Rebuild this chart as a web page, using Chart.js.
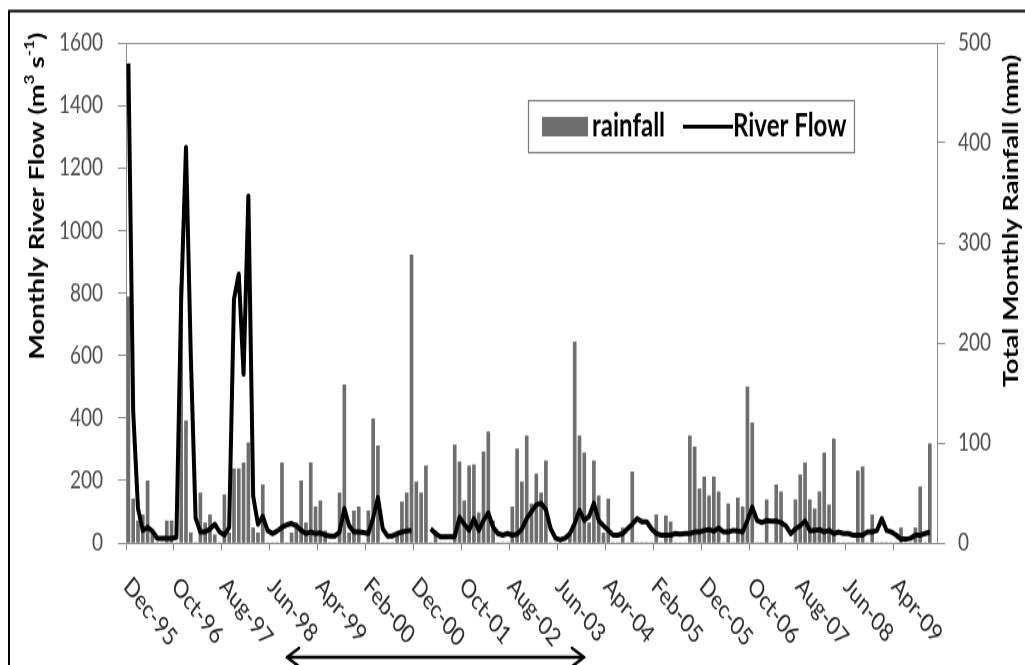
<!DOCTYPE html>
<html>
<head>
<meta charset="utf-8">
<title>Monthly river flow and rainfall</title>
<script src="https://cdn.jsdelivr.net/npm/chart.js@4.4.1/dist/chart.umd.min.js"></script>
<style>
  html, body { margin: 0; padding: 0; background: #fff; overflow: hidden; }
  #wrap { position: absolute; left: 0; top: 0; width: 1025px; height: 512px;
          transform: scaleY(1.29883); transform-origin: 0 0; }
  #chartCanvas { display: block; }
</style>
</head>
<body>
<div id="wrap"><canvas id="chartCanvas" width="1025" height="512"></canvas></div>
<script>
// months counted from Dec-95; a label every 10 months
var tickMonths = [0, 10, 20, 30, 40, 50, 60, 70, 80, 90, 100, 110, 120, 130, 140, 150, 160];
var tickLabels = ['Dec-95', 'Oct-96', 'Aug-97', 'Jun-98', 'Apr-99', 'Feb-00', 'Dec-00', 'Oct-01', 'Aug-02',
                  'Jun-03', 'Apr-04', 'Feb-05', 'Dec-05', 'Oct-06', 'Aug-07', 'Jun-08', 'Apr-09'];
var axisMonths = 169;

// total monthly rainfall (mm), Dec-95 .. Nov-09
var rainfall = [
  246, 44, 22, 28, 62, 10, 0, 0, 22, 22,
  0, 257, 122, 10, 0, 50, 20, 28, 8, 0,
  48, 10, 74, 74, 80, 100, 15, 10, 58, 0,
  0, 0, 80, 0, 10, 20, 62, 20, 80, 36,
  42, 12, 0, 0, 50, 158, 10, 32, 36, 0,
  32, 124, 97, 0, 0, 0, 8, 41, 50, 288,
  61, 50, 77, 0, 12, 0, 0, 0, 98, 81,
  42, 77, 78, 30, 91, 111, 22, 0, 0, 0,
  36, 94, 61, 107, 39, 69, 50, 82, 0, 0,
  0, 0, 8, 201, 107, 90, 20, 82, 47, 10,
  44, 0, 0, 15, 0, 71, 0, 0, 0, 0,
  28, 0, 27, 21, 0, 0, 0, 107, 96, 54,
  66, 47, 66, 51, 0, 39, 0, 45, 36, 156,
  120, 0, 0, 43, 0, 58, 51, 0, 0, 43,
  68, 80, 43, 34, 51, 90, 38, 104, 0, 0,
  0, 0, 72, 76, 0, 28, 0, 0, 0, 0,
  0, 15, 0, 0, 15, 56, 0, 99
];

// monthly river flow (m3/s), no record for Jan-01 .. Mar-01
var riverFlow = [
  1534, 420, 110, 40, 50, 38, 15, 15, 15, 15,
  18, 780, 1265, 600, 80, 35, 35, 45, 60, 35,
  25, 50, 780, 860, 540, 1110, 150, 60, 85, 40,
  30, 38, 50, 58, 62, 55, 40, 30, 35, 30,
  32, 25, 22, 22, 35, 110, 55, 35, 35, 33,
  30, 80, 145, 45, 22, 22, 30, 35, 38, 40,
  null, null, null, 45, 30, 20, 20, 20, 20, 82,
  60, 40, 78, 40, 72, 96, 50, 30, 25, 30,
  25, 28, 45, 78, 100, 122, 127, 106, 45, 15,
  10, 15, 30, 62, 105, 72, 85, 127, 72, 55,
  40, 25, 25, 30, 45, 60, 78, 68, 68, 45,
  30, 25, 25, 25, 30, 28, 30, 30, 35, 35,
  40, 43, 37, 48, 35, 35, 40, 38, 35, 72,
  115, 72, 65, 72, 70, 70, 65, 55, 30, 45,
  55, 70, 40, 40, 43, 35, 40, 30, 35, 30,
  30, 25, 25, 25, 35, 35, 40, 78, 40, 35,
  25, 12, 12, 15, 25, 25, 30, 35
];

var axisGray = '#8c8c8c';
var barGray = '#6e6e6e';
var labelGray = '#4d4d4d';

// each monthly value sits in the middle of its month
function monthPoints(values) {
  return values.map(function(v, i) { return { x: i + 0.5, y: v }; });
}

function plainTick(value) { return String(value); }

function drawRich(ctx, parts, cx, cy, size) {
  var widths = parts.map(function(p) {
    ctx.font = 'bold ' + (p.sup ? Math.round(size * 0.62) : size) + 'px Lato';
    return ctx.measureText(p.t).width;
  });
  var total = widths.reduce(function(a, b) { return a + b; }, 0);
  var x = cx - total / 2;
  parts.forEach(function(p, k) {
    ctx.font = 'bold ' + (p.sup ? Math.round(size * 0.62) : size) + 'px Lato';
    ctx.fillText(p.t, x, p.sup ? cy - size * 0.32 : cy);
    x += widths[k];
  });
}

var extras = {
  id: 'extras',
  afterDraw: function(chart) {
    var ctx = chart.ctx;
    var xs = chart.scales.x;
    var area = chart.chartArea;
    ctx.save();

    // outer frame
    ctx.strokeStyle = '#000';
    ctx.lineWidth = 2;
    ctx.strokeRect(9, 8.5, 1040, 540);

    // month labels, slanted downwards
    ctx.font = '20px Lato';
    ctx.fillStyle = '#262626';
    ctx.textAlign = 'left';
    ctx.textBaseline = 'middle';
    tickMonths.forEach(function(m, k) {
      var px = xs.getPixelForValue(m);
      ctx.save();
      ctx.translate(px + 1, area.bottom + 30);
      ctx.rotate(Math.PI / 4);
      ctx.fillText(tickLabels[k], 0, 0);
      ctx.restore();
    });

    // axis titles
    ctx.fillStyle = '#000';
    ctx.textAlign = 'left';
    ctx.save();
    ctx.translate(37, 151);
    ctx.rotate(-Math.PI / 2);
    drawRich(ctx, [
      { t: 'Monthly River Flow (m' }, { t: '3', sup: true }, { t: ' s' }, { t: '-1', sup: true }, { t: ')' }
    ], 0, 0, 21);
    ctx.restore();
    ctx.save();
    ctx.translate(1011, 170);
    ctx.rotate(-Math.PI / 2);
    drawRich(ctx, [{ t: 'Total Monthly Rainfall (mm)' }], 0, 0, 21);
    ctx.restore();

    // legend
    ctx.fillStyle = '#fff';
    ctx.fillRect(528, 77.5, 327, 40);
    ctx.strokeStyle = '#7a7a7a';
    ctx.lineWidth = 1.2;
    ctx.strokeRect(528.5, 77.5, 326, 40);
    ctx.fillStyle = barGray;
    ctx.fillRect(542, 90, 46, 15);
    ctx.strokeStyle = '#000';
    ctx.lineWidth = 3;
    ctx.beginPath();
    ctx.moveTo(683, 97.5);
    ctx.lineTo(733, 97.5);
    ctx.stroke();
    ctx.fillStyle = '#000';
    ctx.font = 'bold 24px Lato';
    ctx.textBaseline = 'middle';
    ctx.fillText('rainfall', 592, 97);
    ctx.fillText('River Flow', 733, 97);

    // double-headed arrow under the axis
    ctx.lineWidth = 2.5;
    ctx.lineCap = 'round';
    ctx.beginPath();
    ctx.moveTo(287, 506);
    ctx.lineTo(584, 506);
    ctx.moveTo(299, 499);
    ctx.lineTo(287, 506);
    ctx.lineTo(299, 513);
    ctx.moveTo(572, 499);
    ctx.lineTo(584, 506);
    ctx.lineTo(572, 513);
    ctx.stroke();

    ctx.restore();
  }
};

var chart = new Chart(document.getElementById('chartCanvas'), {
  type: 'bar',
  data: {
    datasets: [
      {
        type: 'line',
        label: 'River Flow',
        data: monthPoints(riverFlow),
        yAxisID: 'yFlow',
        borderColor: '#000',
        borderWidth: 4,
        borderJoinStyle: 'round',
        pointRadius: 0,
        tension: 0,
        spanGaps: false,
        order: 1
      },
      {
        type: 'bar',
        label: 'rainfall',
        data: monthPoints(rainfall),
        yAxisID: 'yRain',
        backgroundColor: barGray,
        barThickness: 3,
        order: 2
      }
    ]
  },
  options: {
    responsive: false,
    animation: false,
    layout: { padding: { top: 33, left: 0, right: 0, bottom: 0 } },
    plugins: { legend: { display: false }, tooltip: { enabled: false } },
    scales: {
      x: {
        type: 'linear',
        min: 0,
        max: axisMonths,
        offset: false,
        afterBuildTicks: function(scale) {
          scale.ticks = tickMonths.map(function(m) { return { value: m }; });
        },
        afterFit: function(scale) { scale.height = 94; },
        ticks: { display: false },
        grid: { drawOnChartArea: false, offset: false, tickLength: 6, tickColor: axisGray },
        border: { color: axisGray }
      },
      yFlow: {
        position: 'left',
        min: 0,
        max: 1600,
        afterFit: function(scale) { scale.width = 126; },
        ticks: { stepSize: 200, padding: 15, color: labelGray, font: { family: 'Lato', size: 19 }, callback: plainTick },
        grid: {
          color: function(c) { return c.tick && c.tick.value === 1600 ? axisGray : 'rgba(0,0,0,0)'; },
          tickColor: axisGray,
          tickLength: 8
        },
        border: { color: axisGray }
      },
      yRain: {
        position: 'right',
        min: 0,
        max: 500,
        afterFit: function(scale) { scale.width = 88; },
        ticks: { stepSize: 100, padding: 13, color: labelGray, font: { family: 'Lato', size: 19 }, callback: plainTick },
        grid: { drawOnChartArea: false, tickColor: axisGray, tickLength: 8 },
        border: { color: axisGray }
      }
    }
  },
  plugins: [extras]
});
</script>
</body>
</html>
